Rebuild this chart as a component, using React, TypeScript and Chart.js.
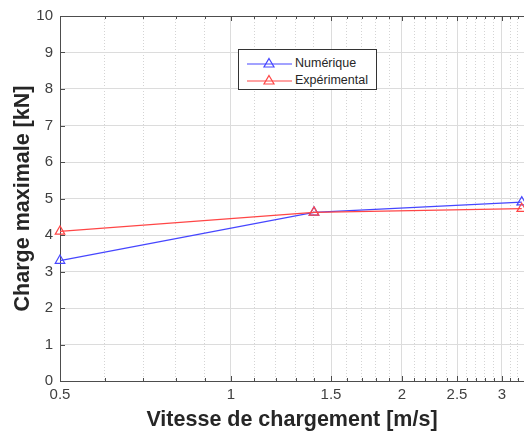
import React, { useEffect, useRef } from "react";
import { Chart, registerables } from "chart.js";

Chart.register(...registerables);

// ---- data ----
const seriesNames = ["Numérique", "Expérimental"];
const speeds = [0.5, 1.4, 3.25];
const numerique = [3.3, 4.62, 4.9];
const experimental = [4.1, 4.62, 4.72];
const xTicks = [
  0.5, 0.6, 0.7, 0.8, 0.9, 1, 1.1, 1.2, 1.3, 1.4, 1.5, 1.6, 1.7, 1.8, 1.9, 2,
  2.1, 2.2, 2.3, 2.4, 2.5, 2.6, 2.7, 2.8, 2.9, 3, 3.1, 3.2,
];
const xMajorTicks = [0.5, 1, 1.5, 2, 2.5, 3];
const xMin = 0.5;
const xMax = 3.28;
const yMin = 0;
const yMax = 10;
const yStep = 1;
const xTitle = "Vitesse de chargement [m/s]";
const yTitle = "Charge maximale [kN]";

const BLUE = "rgb(70,70,255)";
const RED = "rgb(255,70,70)";
const FONT = "'Liberation Sans', Arial, Helvetica, sans-serif";
const AXIS = "#4d4d4d";

const isMajor = (v: number) => xMajorTicks.some((m) => Math.abs(m - v) < 1e-9);

const framePlugin = {
  id: "frame",
  afterDatasetsDraw(chart: any) {
    const { ctx, chartArea, scales } = chart;
    const { left, right, top, bottom } = chartArea;
    ctx.save();
    ctx.strokeStyle = AXIS;
    ctx.lineWidth = 1;
    ctx.beginPath();
    ctx.moveTo(left, top + 0.5);
    ctx.lineTo(right, top + 0.5);
    scales.x.ticks.forEach((t: any) => {
      const px = Math.round(scales.x.getPixelForValue(t.value)) + 0.5;
      const len = isMajor(t.value) ? 5 : 3;
      ctx.moveTo(px, bottom);
      ctx.lineTo(px, bottom - len);
      ctx.moveTo(px, top);
      ctx.lineTo(px, top + len);
    });
    scales.y.ticks.forEach((t: any) => {
      const py = Math.round(scales.y.getPixelForValue(t.value)) + 0.5;
      ctx.moveTo(left, py);
      ctx.lineTo(left + 5, py);
    });
    ctx.stroke();
    ctx.restore();
  },
};

function LegendMarker({ color }: { color: string }) {
  return (
    <svg width="50" height="12" style={{ display: "block" }}>
      <line x1="2" y1="7" x2="47" y2="7" stroke={color} strokeWidth="1.2" />
      <polygon points="24,1.5 29,10 19,10" fill="none" stroke={color} strokeWidth="1.2" />
    </svg>
  );
}

export default function App() {
  const ref = useRef<HTMLCanvasElement | null>(null);

  useEffect(() => {
    if (!ref.current) return;
    const mkSet = (label: string, ys: number[], color: string, order: number) => ({
      label,
      data: speeds.map((x, i) => ({ x, y: ys[i] })),
      borderColor: color,
      backgroundColor: "transparent",
      borderWidth: 1.2,
      pointStyle: "triangle",
      pointRadius: 5.5,
      pointBorderWidth: 1.2,
      pointBorderColor: color,
      pointBackgroundColor: "transparent",
      clip: false as any,
      order,
    });
    const chart = new Chart(ref.current, {
      type: "line",
      data: {
        datasets: [
          mkSet(seriesNames[0], numerique, BLUE, 1),
          mkSet(seriesNames[1], experimental, RED, 0),
        ] as any,
      },
      options: {
        animation: false,
        responsive: false,
        devicePixelRatio: 1,
        layout: { autoPadding: false, padding: { left: 0, top: 14, right: 0, bottom: 0 } },
        plugins: {
          legend: { display: false },
          tooltip: { enabled: false },
        },
        scales: {
          x: {
            type: "logarithmic",
            min: xMin,
            max: xMax,
            afterBuildTicks: (scale: any) => {
              scale.ticks = xTicks.map((v) => ({ value: v }));
            },
            afterFit: (scale: any) => {
              scale.height = 56;
              scale.paddingLeft = 0;
              scale.paddingRight = 0;
            },
            ticks: {
              autoSkip: false,
              maxRotation: 0,
              minRotation: 0,
              padding: 5,
              color: "#404040",
              font: { family: FONT, size: 15 },
              callback: (v: any) => (isMajor(Number(v)) ? String(v) : ""),
            },
            grid: {
              drawTicks: false,
              color: (c: any) =>
                c.tick && isMajor(c.tick.value) ? "#dcdcdc" : "#d4d4d4",
              lineWidth: 1,
            },
            border: {
              display: true,
              color: AXIS,
              width: 1,
              dash: (c: any) => (c.tick && !isMajor(c.tick.value) ? [1, 2] : []),
            } as any,
            title: {
              display: true,
              text: xTitle,
              color: "#262626",
              font: { family: FONT, size: 21.5, weight: "bold" },
              padding: { top: 0, bottom: 4 },
            },
          },
          y: {
            type: "linear",
            min: yMin,
            max: yMax,
            afterFit: (scale: any) => {
              scale.width = 60;
            },
            ticks: {
              stepSize: yStep,
              padding: 7,
              color: "#404040",
              font: { family: FONT, size: 15 },
            },
            grid: {
              drawTicks: false,
              color: "#dcdcdc",
              lineWidth: 1,
            },
            border: { display: true, color: AXIS, width: 1 },
            title: {
              display: true,
              text: yTitle,
              color: "#262626",
              font: { family: FONT, size: 21.5, weight: "bold" },
              padding: { top: 10, bottom: 0 },
            },
          },
        },
      },
      plugins: [framePlugin],
    });
    return () => chart.destroy();
  }, []);

  const rowStyle: React.CSSProperties = {
    display: "flex",
    alignItems: "center",
    height: 17.5,
  };
  const textStyle: React.CSSProperties = {
    fontFamily: FONT,
    fontSize: 12.5,
    color: "#262626",
    marginLeft: 0,
    whiteSpace: "nowrap",
  };

  return (
    <div
      style={{
        position: "fixed",
        left: 0,
        top: 0,
        width: 524,
        height: 437,
        background: "#fff",
      }}
    >
      <canvas ref={ref} width={524} height={437} style={{ display: "block" }} />
      <div
        style={{
          position: "absolute",
          left: 238,
          top: 49,
          width: 131,
          height: 35,
          border: "1px solid #333",
          background: "#fff",
          boxSizing: "content-box",
          paddingTop: 4,
          paddingLeft: 6,
        }}
      >
        <div style={rowStyle}>
          <LegendMarker color={BLUE} />
          <span style={textStyle}>{seriesNames[0]}</span>
        </div>
        <div style={rowStyle}>
          <LegendMarker color={RED} />
          <span style={textStyle}>{seriesNames[1]}</span>
        </div>
      </div>
    </div>
  );
}
